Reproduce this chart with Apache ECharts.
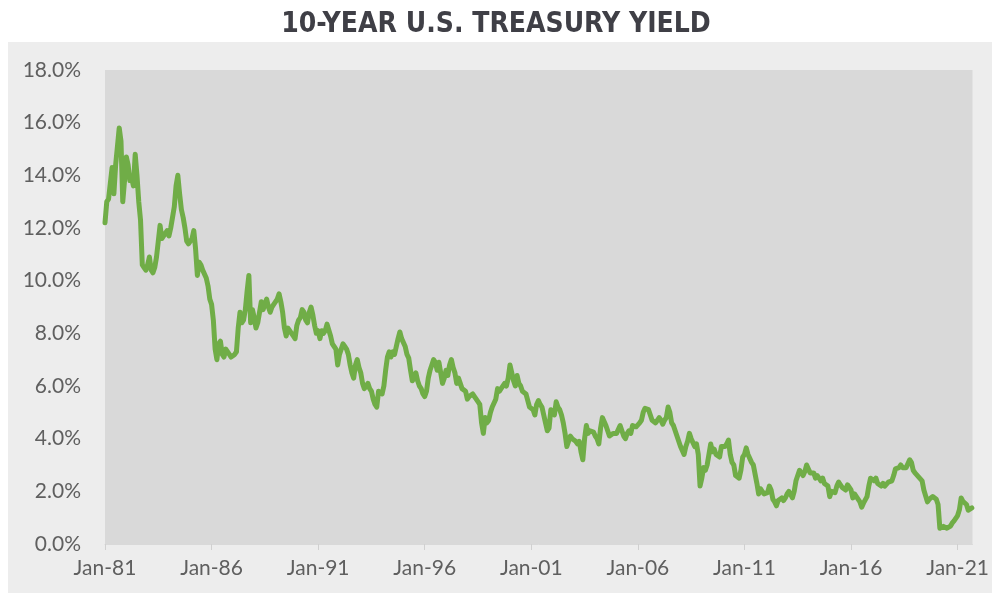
<!DOCTYPE html>
<html>
<head>
<meta charset="utf-8">
<script src="https://cdn.jsdelivr.net/npm/echarts@6/dist/echarts.min.js"></script>
<style>
html,body{margin:0;padding:0;background:#ffffff;}
#chart{width:992px;height:593px;}
</style>
</head>
<body>
<div id="chart"></div>
<script>
// Monthly 10-year U.S. Treasury yield (%), starting Jan 1981
var startYear = 1981;
var yields1980s = [
  12.2, 13.0, 13.1, 13.7, 14.3, 13.3, 14.4, 15.1, 15.8, 15.3, 13.0, 13.8,
  14.7, 14.4, 13.8, 13.9, 13.6, 14.8, 14.0, 13.0, 12.3, 10.6, 10.5, 10.4,
  10.6, 10.9, 10.4, 10.3, 10.5, 10.9, 11.5, 12.1, 11.6, 11.6, 11.8, 11.9,
  11.7, 12.0, 12.4, 12.8, 13.6, 14.0, 13.3, 12.7, 12.4, 12.0, 11.5, 11.4,
  11.4, 11.6, 11.9, 11.2, 10.2, 10.7, 10.6, 10.4, 10.4, 10.1, 9.8, 9.3,
  9.1, 8.5, 7.4, 7.0, 7.6, 7.7, 7.2, 7.1, 7.4, 7.4, 7.2, 7.1,
  7.1, 7.2, 7.3, 8.2, 8.8, 8.4, 8.5, 8.9, 9.6, 10.2, 8.4, 8.9,
  8.6, 8.2, 8.4, 8.8, 9.2, 8.9, 9.1, 9.3, 9.0, 8.8, 9.0, 9.1,
  9.1, 9.3, 9.5, 9.2, 8.8, 8.2, 7.9, 8.2, 8.2, 8.0, 7.9, 7.8
];
var yields1990s = [
  8.3, 8.5, 8.6, 8.9, 8.8, 8.5, 8.4, 8.8, 9.0, 8.7, 8.3, 8.0,
  8.1, 7.8, 8.1, 8.0, 8.1, 8.35, 8.3, 7.9, 7.6, 7.5, 7.4, 6.8,
  7.2, 7.4, 7.6, 7.5, 7.4, 7.2, 6.8, 6.5, 6.3, 6.8, 7.0, 6.7,
  6.5, 6.1, 5.9, 6.0, 6.1, 5.9, 5.8, 5.5, 5.3, 5.2, 5.8, 5.8,
  5.7, 6.0, 6.6, 7.1, 7.3, 7.1, 7.3, 7.2, 7.5, 7.8, 8.05, 7.8,
  7.8, 7.5, 7.2, 7.06, 6.6, 6.2, 6.3, 6.5, 6.2, 6.0, 5.9, 5.7,
  5.6, 5.8, 6.3, 6.6, 6.8, 7.0, 6.9, 6.6, 6.9, 6.5, 6.1, 6.3,
  6.6, 6.4, 6.8, 7.0, 6.7, 6.5, 6.1, 6.3, 6.1, 5.9, 5.9, 5.8,
  5.5, 5.6, 5.65, 5.7, 5.6, 5.5, 5.5, 5.3, 4.6, 4.2, 4.8, 4.6,
  4.7, 5.0, 5.2, 5.2, 5.5, 5.9, 5.8, 5.9, 5.9, 6.1, 6.0, 6.3
];
var yields2000s = [
  6.8, 6.5, 6.2, 6.0, 6.4, 6.1, 6.0, 5.8, 5.8, 5.7, 5.7, 5.2,
  5.2, 5.1, 4.9, 5.3, 5.45, 5.3, 5.2, 4.9, 4.6, 4.3, 4.4, 5.1,
  5.1, 4.9, 5.4, 5.2, 5.1, 4.9, 4.6, 4.2, 3.7, 3.9, 4.1, 4.0,
  4.0, 3.9, 3.8, 3.9, 3.5, 3.2, 4.0, 4.5, 4.2, 4.3, 4.3, 4.25,
  4.1, 4.0, 3.8, 4.4, 4.8, 4.75, 4.5, 4.3, 4.1, 4.05, 4.2, 4.2,
  4.2, 4.2, 4.5, 4.3, 4.1, 4.0, 4.2, 4.3, 4.2, 4.5, 4.5, 4.45,
  4.4, 4.6, 4.7, 5.0, 5.15, 5.2, 5.1, 4.9, 4.7, 4.7, 4.6, 4.55,
  4.8, 4.7, 4.55, 4.7, 4.8, 5.2, 5.0, 4.6, 4.5, 4.5, 4.1, 4.1,
  3.7, 3.75, 3.4, 3.7, 3.9, 4.2, 4.0, 3.85, 3.7, 3.8, 3.4, 2.2,
  2.5, 2.9, 2.8, 3.0, 3.4, 3.8, 3.5, 3.6, 3.4, 3.4, 3.3, 3.7
];
var yields2010s = [
  3.7, 3.7, 3.8, 3.95, 3.4, 3.1, 3.0, 2.6, 2.6, 2.5, 2.8, 3.3,
  3.4, 3.65, 3.4, 3.45, 3.1, 3.0, 3.0, 2.3, 1.9, 2.1, 2.0, 1.9,
  1.95, 1.95, 2.2, 2.05, 1.7, 1.6, 1.45, 1.65, 1.7, 1.75, 1.65, 1.75,
  1.9, 2.0, 1.95, 1.75, 2.0, 2.4, 2.6, 2.8, 2.8, 2.6, 2.75, 3.0,
  2.85, 2.7, 2.7, 2.7, 2.5, 2.6, 2.5, 2.4, 2.5, 2.3, 2.3, 2.2,
  1.8, 2.0, 2.0, 1.95, 2.2, 2.35, 2.3, 2.15, 2.15, 2.05, 2.25, 2.25,
  2.05, 1.75, 1.9, 1.8, 1.8, 1.6, 1.4, 1.55, 1.6, 1.8, 2.2, 2.5,
  2.45, 2.4, 2.5, 2.3, 2.25, 2.2, 2.3, 2.2, 2.2, 2.35, 2.35, 2.4,
  2.6, 2.85, 2.85, 2.9, 3.0, 2.9, 2.9, 2.9, 3.05, 3.2, 3.1, 2.8,
  2.7, 2.7, 2.55, 2.5, 2.4, 2.05, 2.05, 1.6, 1.7, 1.7, 1.8, 1.85
];
var yields2020s = [
  1.7, 1.5, 0.6, 0.62, 0.67, 0.72, 0.6, 0.65, 0.68, 0.8, 0.88, 0.93,
  1.08, 1.3, 1.75, 1.62, 1.6, 1.5, 1.28, 1.3, 1.37
];
var xTickYears = [1981, 1986, 1991, 1996, 2001, 2006, 2011, 2016, 2021];
var yTicks = [0, 2, 4, 6, 8, 10, 12, 14, 16, 18];
var titleText = '10-YEAR U.S. TREASURY YIELD';

var allYields = yields1980s.concat(yields1990s, yields2000s, yields2010s, yields2020s);
var seriesData = allYields.map(function (v, i) {
  return [startYear + i / 12, v];
});

var chart = echarts.init(document.getElementById('chart'), null, {renderer: 'canvas'});
chart.setOption({
  animation: false,
  backgroundColor: '#ffffff',
  graphic: [{
    type: 'rect',
    z: -10,
    shape: {x: 8, y: 42, width: 984, height: 551},
    style: {fill: '#ededed'}
  }],
  title: {
    text: titleText,
    left: 'center',
    top: 6,
    textStyle: {
      fontFamily: '"Liberation Sans Narrow", "DejaVu Sans Condensed", sans-serif',
      fontWeight: 'bold',
      fontSize: 28,
      color: '#3f3f46'
    }
  },
  grid: {
    left: 105, right: 18, top: 70, bottom: 49,
    show: true, backgroundColor: '#d9d9d9', borderWidth: 0
  },
  xAxis: {
    type: 'value',
    min: 1981,
    max: 2021.7,
    interval: 5,
    splitLine: {show: false},
    axisLine: {show: true, lineStyle: {color: '#d9d9d9', width: 1}},
    axisTick: {show: true, length: 6, customValues: xTickYears, lineStyle: {color: '#d0d0d0'}},
    axisLabel: {
      customValues: xTickYears,
      margin: 14,
      fontFamily: 'Lato, "Noto Sans", sans-serif',
      fontSize: 21,
      color: '#5f5f5f',
      formatter: function (v) { return 'Jan-' + String(Math.round(v)).slice(2); }
    }
  },
  yAxis: {
    type: 'value',
    min: 0,
    max: 18,
    interval: 2,
    splitLine: {show: false},
    axisLine: {show: false},
    axisTick: {show: false},
    axisLabel: {
      margin: 24,
      fontFamily: 'Lato, "Noto Sans", sans-serif',
      fontSize: 21,
      color: '#5f5f5f',
      formatter: function (v) { return v.toFixed(1) + '%'; }
    }
  },
  series: [{
    type: 'line',
    data: seriesData,
    showSymbol: false,
    lineStyle: {color: '#70ad47', width: 5, join: 'round', cap: 'round'}
  }]
});
</script>
</body>
</html>
